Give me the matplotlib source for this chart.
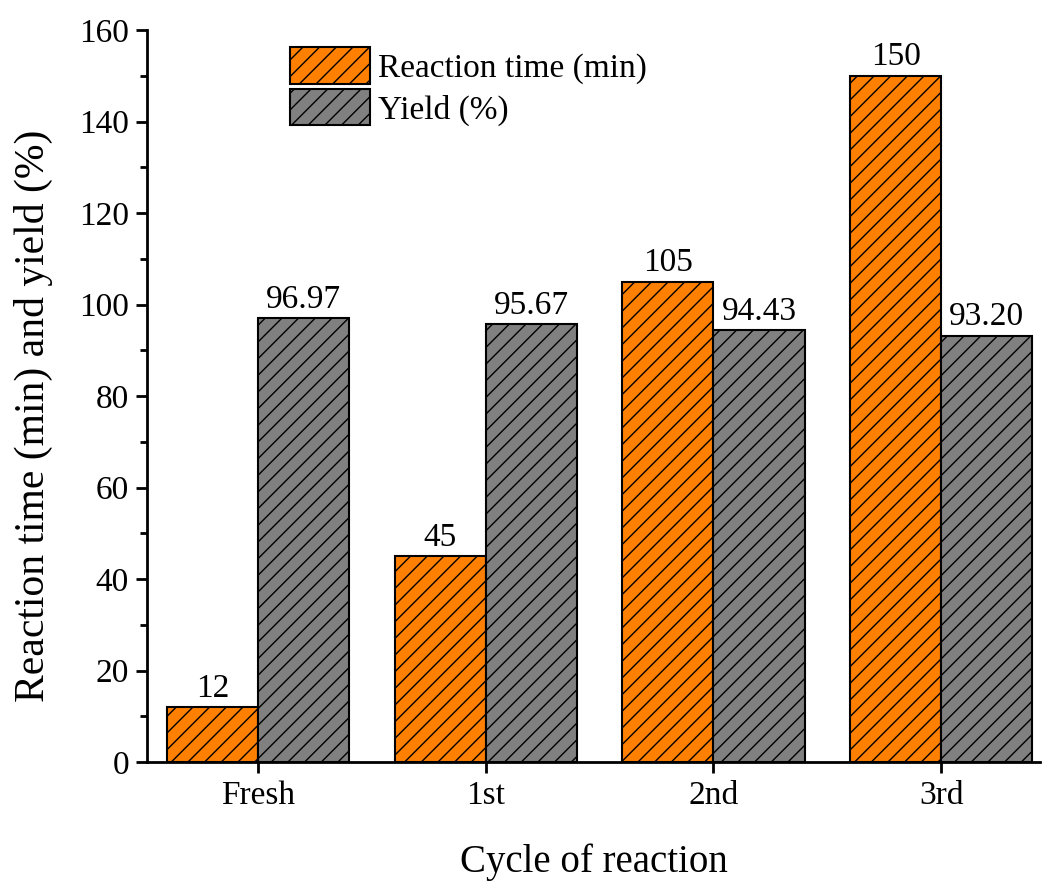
import matplotlib
matplotlib.use("Agg")
import matplotlib.pyplot as plt
import numpy as np
from matplotlib.ticker import MultipleLocator

plt.rcParams['font.family'] = ['Liberation Serif', 'DejaVu Serif']
plt.rcParams['hatch.linewidth'] = 1.0
plt.rcParams['hatch.color'] = 'black'

cycles = ["Fresh", "1st", "2nd", "3rd"]
reaction_time = [12, 45, 105, 150]
yield_pct = [96.97, 95.67, 94.43, 93.20]
time_labels = ["12", "45", "105", "150"]
yield_labels = ["96.97", "95.67", "94.43", "93.20"]

fig = plt.figure(figsize=(10.45, 8.81), dpi=100)
ax = fig.add_axes([147 / 1045, 1 - 762 / 881, (1040 - 147) / 1045, (762 - 30) / 881])

x = np.arange(len(cycles))
w = 0.4
b1 = ax.bar(x - w / 2, reaction_time, w, color='#FF8000', edgecolor='black',
            linewidth=1.5, hatch='//', label='Reaction time (min)')
b2 = ax.bar(x + w / 2, yield_pct, w, color='#808080', edgecolor='black',
            linewidth=1.5, hatch='//', label='Yield (%)')

for bars, labels in ((b1, time_labels), (b2, yield_labels)):
    for rect, lab in zip(bars, labels):
        ax.annotate(lab, (rect.get_x() + rect.get_width() / 2, rect.get_height()),
                    xytext=(0, 2.5), textcoords='offset points',
                    ha='center', va='bottom', fontsize=24)

ax.set_xlim(-0.487, 3.434)
ax.set_ylim(0, 160)
ax.set_xticks(x)
ax.set_xticklabels(cycles)
ax.yaxis.set_major_locator(MultipleLocator(20))
ax.yaxis.set_minor_locator(MultipleLocator(10))

for s in ['top', 'right']:
    ax.spines[s].set_visible(False)
for s in ['left', 'bottom']:
    ax.spines[s].set_linewidth(2)

ax.tick_params(axis='both', which='major', direction='out', length=8, width=2,
               labelsize=24, pad=5)
ax.tick_params(axis='y', which='minor', direction='out', length=5, width=2)
ax.tick_params(axis='x', which='minor', bottom=False)

ax.set_xlabel("Cycle of reaction", fontsize=28, labelpad=24)
ax.set_ylabel("Reaction time (min) and yield (%)", fontsize=30, labelpad=19)
ax.yaxis.label.set_y(0.473)

ax.legend(loc='upper left', bbox_to_anchor=(0.134, 1.008), frameon=False,
          fontsize=24, handlelength=2.4, handleheight=1.3, handletextpad=0.25,
          labelspacing=0.15, borderaxespad=0.3)

fig.savefig("out.png", dpi=100)
